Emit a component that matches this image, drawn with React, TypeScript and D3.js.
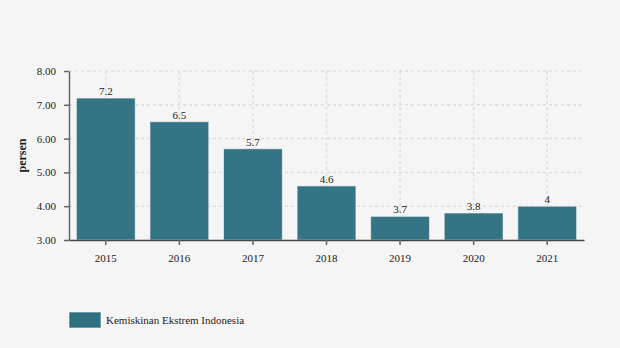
import React, { useEffect, useRef } from "react";
import * as d3 from "d3";

const categories = ["2015", "2016", "2017", "2018", "2019", "2020", "2021"];
const values = [7.2, 6.5, 5.7, 4.6, 3.7, 3.8, 4];
const yTicks = [3, 4, 5, 6, 7, 8];
const seriesName = "Kemiskinan Ekstrem Indonesia";
const yLabel = "persen";

export default function App() {
  const ref = useRef<SVGSVGElement>(null);
  useEffect(() => {
    const svg = d3.select(ref.current!);
    svg.selectAll("*").remove();
    const W = 620, H = 348;
    const m = { l: 69, r: 36, t: 71, b: 108 };
    const font = "Liberation Serif, serif";
    svg.append("rect").attr("width", W).attr("height", H).attr("fill", "#f5f5f5");
    const x = d3.scaleBand<string>().domain(categories).range([m.l, W - m.r]).paddingInner(0.2).paddingOuter(0.1);
    const y = d3.scaleLinear().domain([3, 8]).range([H - m.b, m.t]);
    const g = svg.append("g");
    // grid
    g.selectAll("line.hg").data(yTicks.slice(1)).join("line")
      .attr("x1", m.l).attr("x2", W - m.r).attr("y1", (d) => y(d)).attr("y2", (d) => y(d))
      .attr("stroke", "#dedede").attr("stroke-width", 1.5).attr("stroke-dasharray", "3,3");
    g.selectAll("line.vg").data(categories).join("line")
      .attr("x1", (d) => x(d)! + x.bandwidth() / 2).attr("x2", (d) => x(d)! + x.bandwidth() / 2)
      .attr("y1", m.t).attr("y2", H - m.b)
      .attr("stroke", "#dedede").attr("stroke-width", 1.5).attr("stroke-dasharray", "3,3");
    // bars
    g.selectAll("rect.bar").data(values).join("rect")
      .attr("x", (_, i) => x(categories[i])!).attr("width", x.bandwidth())
      .attr("y", (d) => y(d)).attr("height", (d) => y(3) - y(d))
      .attr("fill", "#2e6f80").attr("fill-opacity", 0.97).attr("stroke", "#ffffff").attr("stroke-opacity", 0.6).attr("stroke-width", 1);
    // labels
    g.selectAll("text.val").data(values).join("text")
      .attr("x", (_, i) => x(categories[i])! + x.bandwidth() / 2).attr("y", (d) => y(d) - 3)
      .attr("text-anchor", "middle").attr("font-family", font).attr("font-size", 11).attr("fill", "#222")
      .text((d) => String(d));
    // axes
    const yAxis = svg.append("g").attr("transform", `translate(${m.l},0)`)
      .call(d3.axisLeft(y).tickValues(yTicks).tickFormat(d3.format(".2f")).tickSize(5).tickSizeOuter(0));
    yAxis.attr("font-family", font);
    yAxis.select(".domain").attr("stroke", "#666").attr("stroke-width", 1.5);
    yAxis.selectAll(".tick line").attr("stroke", "#666").attr("stroke-width", 1.5);
    yAxis.selectAll("text").attr("font-family", font).attr("font-size", 11).attr("fill", "#222").attr("x", -13);
    const xAxis = svg.append("g").attr("transform", `translate(0,${H - m.b})`)
      .call(d3.axisBottom(x).tickSize(5).tickSizeOuter(0));
    xAxis.attr("font-family", font);
    xAxis.select(".domain").attr("stroke", "#444").attr("stroke-width", 1.5);
    xAxis.selectAll(".tick line").attr("stroke", "#666").attr("stroke-width", 1.5);
    xAxis.selectAll("text").attr("font-family", font).attr("font-size", 11).attr("fill", "#222").attr("y", 14);
    // y label
    svg.append("text").attr("transform", `translate(26,${(m.t + H - m.b) / 2}) rotate(-90)`)
      .attr("text-anchor", "middle").attr("font-family", font).attr("font-size", 12).attr("font-weight", "bold")
      .attr("fill", "#222").text(yLabel);
    // legend
    svg.append("rect").attr("x", 69).attr("y", 312).attr("width", 32).attr("height", 16)
      .attr("fill", "#2e6f80").attr("stroke", "#fff").attr("stroke-opacity", 0.6);
    svg.append("text").attr("x", 106).attr("y", 324).attr("font-family", font).attr("font-size", 11)
      .attr("fill", "#222").text(seriesName);
  }, []);
  return <svg ref={ref} width={620} height={348} style={{ display: "block", position: "absolute", left: 0, top: 0 }} />;
}
